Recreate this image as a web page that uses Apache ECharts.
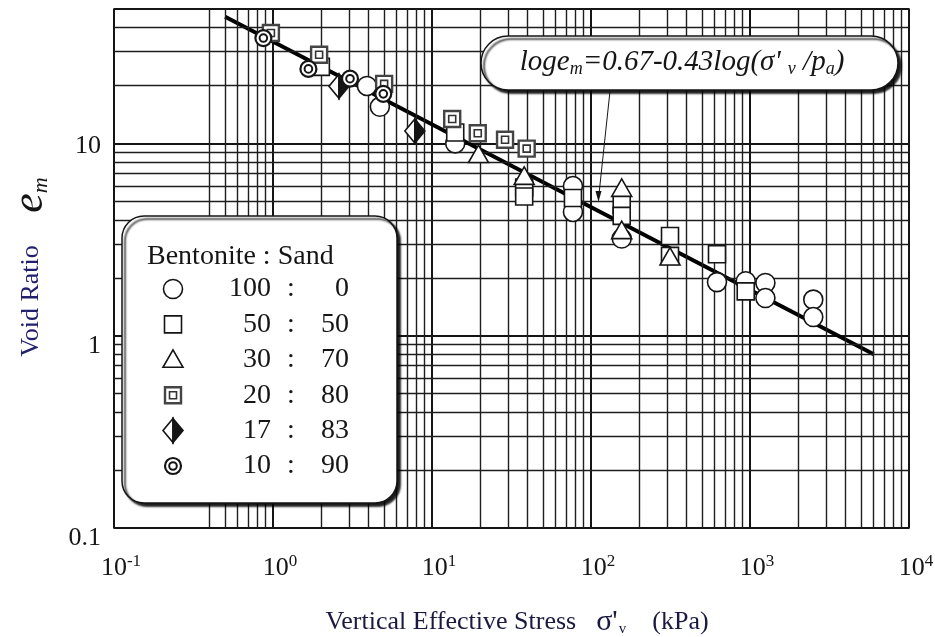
<!DOCTYPE html>
<html>
<head>
<meta charset="utf-8">
<script src="https://cdn.jsdelivr.net/npm/echarts@6/dist/echarts.min.js"></script>
<style>
  html, body { margin: 0; padding: 0; background: #fff; }
  #chart { width: 935px; height: 637px; }
</style>
</head>
<body>
<div id="chart"></div>
<script>
// Void ratio e_m against vertical effective stress for bentonite : sand mixtures

// mix proportions (legend rows)
const mixBentonite = [100, 50, 30, 20, 17, 10];
const mixSand = [0, 50, 70, 80, 83, 90];
const markerKinds = ['circle', 'square', 'triangle', 'boxdot', 'halfdiamond', 'bullseye'];

// measured points: stress (kPa) and void ratio for each mix
const stress100 = [3.9, 4.7, 14, 77, 77, 156, 620, 940, 1250, 1250, 2500, 2500];
const voids100  = [19.9, 15.5, 10.0, 6.0, 4.4, 3.2, 1.9, 1.92, 1.88, 1.57, 1.54, 1.25];
const stress50 = [2.0, 14, 38, 38, 77, 156, 156, 314, 314, 620, 940];
const voids50  = [25, 11.4, 5.9, 5.3, 5.2, 4.8, 4.2, 3.3, 2.6, 2.65, 1.70];
const stress30 = [19.6, 38, 156, 156, 314];
const voids30  = [8.7, 6.7, 5.8, 3.5, 2.55];
const stress20 = [0.97, 1.95, 5.0, 13.4, 19.4, 28.8, 39.4];
const voids20  = [37.5, 28.9, 20.4, 13.4, 11.3, 10.45, 9.4];
const stress17 = [2.6, 7.8];
const voids17  = [19.8, 11.6];
const stress10 = [0.87, 1.67, 3.05, 4.94];
const voids10  = [35.3, 24.4, 21.7, 18.1];

// regression line end points
const fitStress = [0.5, 6000];
const fitVoid = [45.6, 0.80];

// axis tick labels
const xTickExponents = ['-1', '0', '1', '2', '3', '4'];
const yTickLabels = ['0.1', '1', '10'];

// log-paper minor rulings
const minorFactors = [2, 3, 4, 5, 6, 7, 8, 9];
const xDecadeStarts = [0.1, 1, 10, 100, 1000];
const yDecadeStarts = [0.1, 1, 10];

const SERIF = "'Liberation Serif', 'Times New Roman', serif";
const INK = '#151515';
const TITLE_INK = '#1a1a40';
const TOP_Z = 100;

const xMinor = [];
xDecadeStarts.forEach(d => minorFactors.forEach(f => {
  if (d < 1 && f < 4) return;          // the first decade starts its rulings at 0.4
  xMinor.push(+(d * f).toPrecision(3));
}));
const yMinor = [];
yDecadeStarts.forEach(d => minorFactors.forEach(f => {
  const v = +(d * f).toPrecision(3);
  if (v < 50) yMinor.push(v);
}));

function markerShapes(kind, cx, cy) {
  const open = { fill: '#fff', stroke: INK, lineWidth: 1.6 };
  switch (kind) {
    case 'circle':
      return [{ type: 'circle', shape: { cx, cy, r: 9.5 }, style: open }];
    case 'square':
      return [{ type: 'rect', shape: { x: cx - 8.5, y: cy - 8.5, width: 17, height: 17 }, style: open }];
    case 'triangle':
      return [{ type: 'polygon', shape: { points: [[cx, cy - 10], [cx + 10, cy + 7.5], [cx - 10, cy + 7.5]] }, style: open }];
    case 'boxdot':
      return [
        { type: 'rect', shape: { x: cx - 8, y: cy - 8, width: 16, height: 16 }, style: { fill: '#fff', stroke: '#444', lineWidth: 2.4 } },
        { type: 'rect', shape: { x: cx - 3.5, y: cy - 3.5, width: 7, height: 7 }, style: { fill: '#fff', stroke: '#333', lineWidth: 1.6 } }
      ];
    case 'halfdiamond':
      return [
        { type: 'polygon', shape: { points: [[cx, cy - 12], [cx - 10, cy], [cx, cy + 12]] }, style: open },
        { type: 'polygon', shape: { points: [[cx, cy - 12], [cx + 10, cy], [cx, cy + 12]] }, style: { fill: INK, stroke: INK, lineWidth: 1.6 } }
      ];
    case 'bullseye':
      return [
        { type: 'circle', shape: { cx, cy, r: 8 }, style: { fill: '#fff', stroke: INK, lineWidth: 2.2 } },
        { type: 'circle', shape: { cx, cy, r: 3.8 }, style: { fill: '#fff', stroke: INK, lineWidth: 2 } }
      ];
  }
  return [];
}

function pointSeries(name, kind, xs, ys) {
  return {
    name,
    type: 'custom',
    coordinateSystem: 'cartesian2d',
    z: 5,
    silent: true,
    data: xs.map((x, i) => [x, ys[i]]),
    encode: { x: 0, y: 1 },
    renderItem: function (params, api) {
      const p = api.coord([api.value(0), api.value(1)]);
      return { type: 'group', children: markerShapes(kind, p[0], p[1]) };
    }
  };
}

const stressSets = [stress100, stress50, stress30, stress20, stress17, stress10];
const voidSets = [voids100, voids50, voids30, voids20, voids17, voids10];

function lifted(el, order) {
  return Object.assign({}, el, { z: TOP_Z, z2: order || 0 });
}

// legend panel
const legendX = 122, legendY = 216, legendW = 275, legendH = 287;
const rowY0 = 289, rowStep = 35.4;
const LEGEND_FONT = 28;
const legendElements = [
  lifted({
    type: 'rect',
    shape: { x: legendX, y: legendY, width: legendW, height: legendH, r: 22 },
    style: { fill: '#fff', stroke: INK, lineWidth: 1.5, shadowColor: 'rgba(0,0,0,0.9)', shadowBlur: 2, shadowOffsetX: 3, shadowOffsetY: 3 }
  }, 0),
  lifted({
    type: 'text', x: 147, y: 257,
    style: { text: 'Bentonite : Sand', fontFamily: SERIF, fontSize: LEGEND_FONT, fill: INK, align: 'left', verticalAlign: 'middle' }
  }, 5)
];
mixBentonite.forEach((b, i) => {
  const y = rowY0 + i * rowStep;
  markerShapes(markerKinds[i], 173, y).forEach((s, k) => legendElements.push(lifted(s, 2 + k)));
  const txt = (x, t, align) => lifted({
    type: 'text', x, y,
    style: { text: t, fontFamily: SERIF, fontSize: LEGEND_FONT, fill: INK, align, verticalAlign: 'middle' }
  }, 5);
  legendElements.push(txt(271, String(b), 'right'));
  legendElements.push(txt(291, ':', 'center'));
  legendElements.push(txt(349, String(mixSand[i]), 'right'));
});

// regression equation call-out
const calloutElements = [
  lifted({
    type: 'rect',
    shape: { x: 481, y: 36, width: 417, height: 54, r: 27 },
    style: { fill: '#fff', stroke: INK, lineWidth: 1.5, shadowColor: 'rgba(0,0,0,0.9)', shadowBlur: 2, shadowOffsetX: 3, shadowOffsetY: 3 }
  }, 0),
  lifted({
    type: 'text', x: 682, y: 62,
    style: {
      text: "{i|loge}{s|m}{i|=0.67-0.43log(σ' }{s|v}{i| /p}{s|a}{i|)}",
      align: 'center', verticalAlign: 'middle',
      rich: {
        i: { fontFamily: SERIF, fontStyle: 'italic', fontSize: 29, fill: INK, lineHeight: 32, verticalAlign: 'middle' },
        s: { fontFamily: SERIF, fontStyle: 'italic', fontSize: 18, fill: INK, lineHeight: 18, verticalAlign: 'bottom' }
      }
    }
  }, 5),
  lifted({ type: 'line', shape: { x1: 610, y1: 91, x2: 599, y2: 194 }, style: { stroke: INK, lineWidth: 1 } }, 1),
  lifted({ type: 'polygon', shape: { points: [[595.5, 191], [601.5, 191], [598.5, 202]] }, style: { fill: INK } }, 1)
];

const option = {
  animation: false,
  backgroundColor: '#fff',
  grid: {
    left: 114, right: 26, top: 9, bottom: 109,
    show: true, borderColor: INK, borderWidth: 1.6, backgroundColor: 'transparent',
    containLabel: false, outerBoundsMode: 'none'
  },
  xAxis: {
    type: 'log', logBase: 10, min: 0.1, max: 10000,
    axisLine: { show: false }, axisTick: { show: false },
    splitLine: { show: true, lineStyle: { color: INK, width: 2 } },
    axisLabel: {
      margin: 25,
      formatter: v => {
        const e = String(Math.round(Math.log10(v)));
        return xTickExponents.includes(e) ? '{b|10}{s|' + e + '}' : '';
      },
      rich: {
        b: { fontFamily: SERIF, fontSize: 26, color: INK, lineHeight: 30, padding: [0, 0, 0, 14], verticalAlign: 'middle' },
        s: { fontFamily: SERIF, fontSize: 17, color: INK, lineHeight: 20, verticalAlign: 'top' }
      }
    }
  },
  yAxis: {
    type: 'log', logBase: 10, min: 0.1, max: 50,
    axisLine: { show: false }, axisTick: { show: false },
    splitLine: { show: true, lineStyle: { color: INK, width: 2 } },
    axisLabel: {
      margin: 13, showMaxLabel: false,
      formatter: v => {
        const e = Math.round(Math.log10(v));
        const t = yTickLabels[e + 1];
        if (t === undefined || Math.abs(Math.log10(v) - e) > 1e-6) return '';
        return e >= 1 ? '{hi|' + t + '}' : '{lo|' + t + '}';
      },
      rich: {
        hi: { fontFamily: SERIF, fontSize: 26, color: INK, padding: [6, 0, 0, 0] },
        lo: { fontFamily: SERIF, fontSize: 26, color: INK, padding: [20, 0, 0, 0] }
      }
    }
  },
  series: [
    {
      name: 'rulings',
      type: 'line',
      z: 1,
      silent: true,
      data: [],
      markLine: {
        silent: true,
        symbol: ['none', 'none'],
        label: { show: false },
        lineStyle: { color: '#1e1e1e', width: 1.4, type: 'solid' },
        emphasis: { disabled: true },
        data: xMinor.map(v => ({ xAxis: v })).concat(yMinor.map(v => ({ yAxis: v })))
      }
    },
    {
      name: 'fit',
      type: 'line',
      z: 3,
      silent: true,
      showSymbol: false,
      data: fitStress.map((x, i) => [x, fitVoid[i]]),
      lineStyle: { color: '#000', width: 4 }
    }
  ].concat(mixBentonite.map((b, i) =>
    pointSeries(b + ' : ' + mixSand[i], markerKinds[i], stressSets[i], voidSets[i])
  )),
  graphic: legendElements.concat(calloutElements).concat([
    {
      type: 'text', z: TOP_Z, x: 517, y: 622,
      style: {
        text: "{t|Vertical Effective Stress}{g|σ'}{v|v}{k|(kPa)}",
        align: 'center', verticalAlign: 'middle',
        rich: {
          t: { fontFamily: SERIF, fontSize: 26, fill: TITLE_INK, lineHeight: 30, verticalAlign: 'middle' },
          g: { fontFamily: SERIF, fontSize: 30, fill: TITLE_INK, lineHeight: 30, verticalAlign: 'middle', padding: [0, 0, 0, 20] },
          v: { fontFamily: SERIF, fontSize: 15, fill: TITLE_INK, lineHeight: 14, verticalAlign: 'bottom', padding: [0, 0, 0, 1] },
          k: { fontFamily: SERIF, fontSize: 26, fill: TITLE_INK, lineHeight: 30, verticalAlign: 'middle', padding: [0, 0, 0, 26] }
        }
      }
    },
    {
      type: 'text', z: TOP_Z, x: 31, y: 301, rotation: Math.PI / 2,
      style: { text: 'Void Ratio', fontFamily: SERIF, fontSize: 26, fill: '#22206e', align: 'center', verticalAlign: 'middle' }
    },
    {
      type: 'text', z: TOP_Z, x: 30, y: 195, rotation: Math.PI / 2,
      style: {
        text: '{e|e}{m|m}',
        align: 'center', verticalAlign: 'middle',
        rich: {
          e: { fontFamily: SERIF, fontStyle: 'italic', fontSize: 44, fill: INK, lineHeight: 44, verticalAlign: 'middle' },
          m: { fontFamily: SERIF, fontStyle: 'italic', fontSize: 22, fill: INK, lineHeight: 20, verticalAlign: 'bottom' }
        }
      }
    }
  ])
};

const chart = echarts.init(document.getElementById('chart'), null, { renderer: 'canvas' });
chart.setOption(option);
</script>
</body>
</html>
